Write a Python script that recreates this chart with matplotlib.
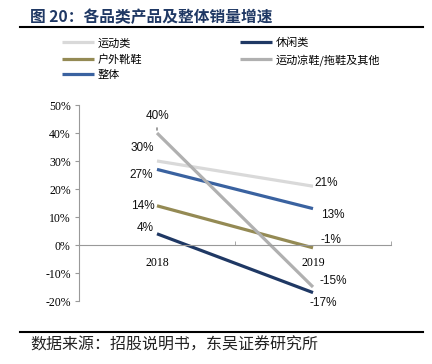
import matplotlib.pyplot as plt
from matplotlib.lines import Line2D

plt.rcParams['font.family'] = ['Noto Sans CJK SC', 'DejaVu Sans']

years = ['2018', '2019']
series = ['运动类', '户外靴鞋', '整体', '休闲类', '运动凉鞋/拖鞋及其他']
sport = [30, 21]
outdoor = [14, -1]
overall = [27, 13]
casual = [4, -17]
sandal = [40, -15]
values = [sport, outdoor, overall, casual, sandal]
colors = ['#d9d9d9', '#948a54', '#3a62a0', '#1f3864', '#b0b0b0']
# label offsets in pixels (2018 point, 2019 point)
offsets = [[(-15, 13), (13, 3)],
           [(-14, 0), (18, 8)],
           [(-16, -6), (20, -6)],
           [(-12, 6), (10, -10)],
           [(0, 17), (20, 6)]]

fig = plt.figure(figsize=(4.32, 3.64), dpi=100)
ax = fig.add_axes([79 / 432, 1 - 301 / 364, 312 / 432, 196 / 364])

x = list(range(len(years)))
for name, vals, c, offs in zip(series, values, colors, offsets):
    ax.plot(x, vals, color=c, lw=2.3, solid_capstyle='butt', label=name)
    for xi, v, (dx, dy) in zip(x, vals, offs):
        ax.annotate(f'{v}%', (xi, v), xytext=(dx, dy), textcoords='offset pixels',
                    ha='center', va='center', fontsize=8.5, family='Liberation Sans',
                    color='#111111')
# small leader mark above the 40% point
ax.annotate('', (0, sandal[0]), xytext=(0, 8), textcoords='offset pixels',
            arrowprops=dict(arrowstyle='-', color='#555555', lw=0.8))

ax.set_xlim(-0.5, 1.5)
ax.set_ylim(-20, 50)
ax.set_yticks(range(-20, 51, 10))
ax.set_yticklabels([f'{t}%' for t in range(-20, 51, 10)])
ax.set_xticks(x)
ax.set_xticklabels(years)
ax.set_xticks([-0.5, 0.5, 1.5], minor=True)
ax.tick_params(axis='x', which='major', length=0, pad=9, labelsize=8.5,
               labelfontfamily='Liberation Serif')
ax.tick_params(axis='x', which='minor', length=3, direction='in', color='#999999')
ax.tick_params(axis='y', length=3, color='#999999', pad=3, labelsize=8.5,
               labelfontfamily='Liberation Serif')
ax.spines['bottom'].set_position(('data', 0))
for s in ['top', 'right']:
    ax.spines[s].set_visible(False)
for s in ['left', 'bottom']:
    ax.spines[s].set_color('#999999')
    ax.spines[s].set_linewidth(0.8)

handles, labels = ax.get_legend_handles_labels()
fig.legend(handles, labels, ncol=2, loc='upper left', bbox_to_anchor=(52 / 432, 1 - 28 / 364),
           frameon=False, fontsize=8, handlelength=2.9, handletextpad=0.3,
           columnspacing=8.8, labelspacing=0.5)

fig.text(30 / 432, 1 - 17 / 364, '图 20：各品类产品及整体销量增速', fontsize=11.3, fontweight='bold',
         color='#1f3864', va='center', ha='left')
fig.add_artist(Line2D([20 / 432, 423 / 432], [1 - 27 / 364] * 2, color='black', lw=1.5))
fig.add_artist(Line2D([20 / 432, 423 / 432], [1 - 332 / 364] * 2, color='black', lw=1.5))
fig.text(30 / 432, 1 - 345 / 364, '数据来源：招股说明书，东吴证券研究所', fontsize=11.5,
         color='#222222', va='center', ha='left')

fig.savefig('out.png', dpi=100)
